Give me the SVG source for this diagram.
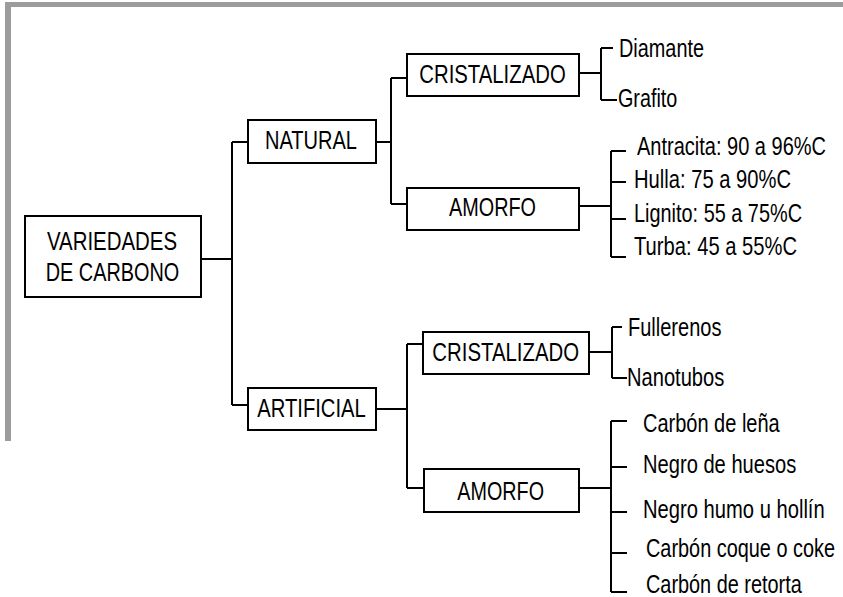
<svg xmlns="http://www.w3.org/2000/svg" width="843" height="597" viewBox="0 0 843 597">
<style>
  .frame{fill:#9c9c9c}
  .box{fill:#fff;stroke:#000;stroke-width:2}
  .ln{fill:none;stroke:#000;stroke-width:2}
  text{font-family:"Liberation Sans Narrow","Arial Narrow","Liberation Sans",Arial,sans-serif;font-size:25px;fill:#000}
  .c{text-anchor:middle}
</style>
<rect width="843" height="597" fill="#fff"/>
<g id="frame">
  <rect class="frame" x="5" y="2" width="838" height="5"/>
  <rect class="frame" x="5" y="2" width="6" height="439"/>
</g>
<g id="connectors">
  <path class="ln" d="M201 259H232M232 142V405M232 142H248M232 405H248"/>
  <path class="ln" d="M376 142H391M391 78V204M391 78H407M391 204H407"/>
  <path class="ln" d="M376 409H407M407 344V488M407 344H423M407 488H424"/>
  <path class="ln" d="M579 73H601M601 48V100M601 48H613M601 100H617"/>
  <path class="ln" d="M579 206H611M611 151V257M611 151H626M611 182H626M611 219H626M611 257H626"/>
  <path class="ln" d="M589 352H612M612 327V378M612 327H622M612 378H627"/>
  <path class="ln" d="M579 488H611M611 421V592M611 421H627M611 467H627M611 512H627M611 553H627M611 592H627"/>
</g>
<g id="variedades">
  <rect class="box" x="25" y="216" width="176" height="81"/>
  <text class="c" x="112" y="250" textLength="130" lengthAdjust="spacingAndGlyphs">VARIEDADES</text>
  <text class="c" x="112.5" y="281" textLength="133.6" lengthAdjust="spacingAndGlyphs">DE CARBONO</text>
</g>
<g id="natural">
  <rect class="box" x="248" y="120" width="128" height="43"/>
  <text class="c" x="311" y="149" textLength="92" lengthAdjust="spacingAndGlyphs">NATURAL</text>
</g>
<g id="artificial">
  <rect class="box" x="248" y="388" width="128" height="42"/>
  <text class="c" x="311.5" y="417" textLength="108.4" lengthAdjust="spacingAndGlyphs">ARTIFICIAL</text>
</g>
<g id="nat-cristalizado">
  <rect class="box" x="407" y="54" width="172" height="42"/>
  <text class="c" x="492.5" y="83" textLength="146.4" lengthAdjust="spacingAndGlyphs">CRISTALIZADO</text>
</g>
<g id="nat-amorfo">
  <rect class="box" x="407" y="188" width="172" height="42"/>
  <text class="c" x="492.5" y="216" textLength="87" lengthAdjust="spacingAndGlyphs">AMORFO</text>
</g>
<g id="art-cristalizado">
  <rect class="box" x="423" y="332" width="166" height="42"/>
  <text class="c" x="505.7" y="361" textLength="146.7" lengthAdjust="spacingAndGlyphs">CRISTALIZADO</text>
</g>
<g id="art-amorfo">
  <rect class="box" x="424" y="469" width="155" height="43"/>
  <text class="c" x="500.7" y="500" textLength="86.7" lengthAdjust="spacingAndGlyphs">AMORFO</text>
</g>
<g id="leaves-nat-cristalizado">
  <text x="619" y="57" textLength="85" lengthAdjust="spacingAndGlyphs">Diamante</text>
  <text x="618" y="107" textLength="59.3" lengthAdjust="spacingAndGlyphs">Grafito</text>
</g>
<g id="leaves-nat-amorfo">
  <text x="637" y="155" textLength="189" lengthAdjust="spacingAndGlyphs">Antracita: 90 a 96%C</text>
  <text x="634" y="188" textLength="157" lengthAdjust="spacingAndGlyphs">Hulla: 75 a 90%C</text>
  <text x="634" y="222" textLength="168" lengthAdjust="spacingAndGlyphs">Lignito: 55 a 75%C</text>
  <text x="634" y="255" textLength="163" lengthAdjust="spacingAndGlyphs">Turba: 45 a 55%C</text>
</g>
<g id="leaves-art-cristalizado">
  <text x="628" y="336" textLength="93.4" lengthAdjust="spacingAndGlyphs">Fullerenos</text>
  <text x="627" y="386" textLength="97.3" lengthAdjust="spacingAndGlyphs">Nanotubos</text>
</g>
<g id="leaves-art-amorfo">
  <text x="643" y="432" textLength="136.7" lengthAdjust="spacingAndGlyphs">Carbón de leña</text>
  <text x="643" y="473" textLength="153.3" lengthAdjust="spacingAndGlyphs">Negro de huesos</text>
  <text x="643" y="518" textLength="181.7" lengthAdjust="spacingAndGlyphs">Negro humo u hollín</text>
  <text x="646" y="557" textLength="189" lengthAdjust="spacingAndGlyphs">Carbón coque o coke</text>
  <text x="646" y="593" textLength="155.7" lengthAdjust="spacingAndGlyphs">Carbón de retorta</text>
</g>
</svg>
